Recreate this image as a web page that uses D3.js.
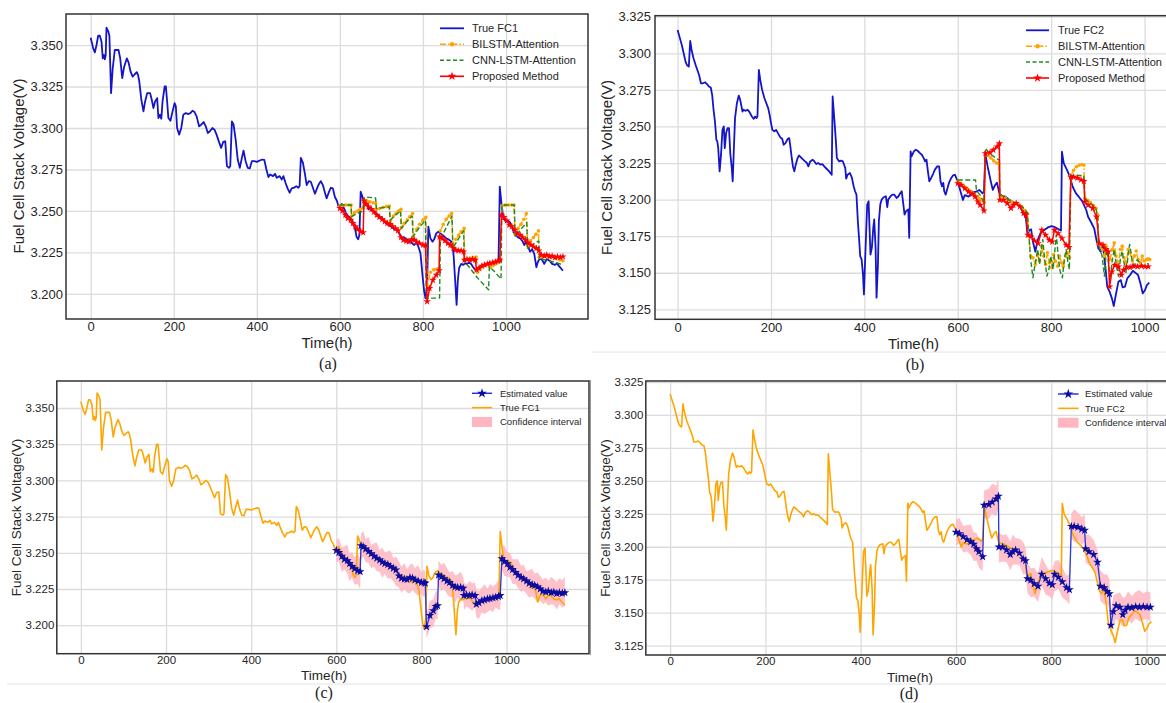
<!DOCTYPE html>
<html>
<head>
<meta charset="utf-8">
<script src="https://cdn.jsdelivr.net/npm/d3@7"></script>
<style>
  body { margin: 0; background: #fff; }
  svg { display: block; font-family: "Liberation Sans", Arial, sans-serif; }
</style>
</head>
<body>
<svg id="fig" width="1166" height="703"></svg>
<script>
'use strict'

// ---- data (hours, volts) ----
const timeTicks = [0, 200, 400, 600, 800, 1000]
const voltTicksFC1 = [3.200, 3.225, 3.250, 3.275, 3.300, 3.325, 3.350]
const voltTicksFC2 = [3.125, 3.150, 3.175, 3.200, 3.225, 3.250, 3.275, 3.300, 3.325]

const trueFC1 = [[0,3.3544],[6,3.3480],[10,3.3456],[14,3.3500],[18,3.3556],[22,3.3556],[26,3.3520],[29,3.3420],[32,3.3440],[34,3.3414],[36,3.3436],[38,3.3604],[42,3.3584],[45,3.3556],[49,3.3210],[53,3.3360],[58,3.3470],[67,3.3470],[71,3.3420],[76,3.3300],[80,3.3364],[87,3.3420],[91,3.3396],[96,3.3340],[101,3.3310],[106,3.3324],[111,3.3336],[114,3.3320],[117,3.3280],[122,3.3170],[127,3.3100],[131,3.3160],[136,3.3210],[143,3.3210],[147,3.3170],[151,3.3120],[155,3.3160],[160,3.3180],[163,3.3060],[167,3.3080],[170,3.3056],[173,3.3160],[178,3.3250],[181,3.3250],[184,3.3160],[187,3.3060],[192,3.3044],[197,3.3100],[202,3.3150],[205,3.3130],[208,3.3000],[213,3.2960],[218,3.3000],[223,3.3080],[229,3.3090],[235,3.3084],[240,3.3090],[245,3.3104],[250,3.3096],[255,3.3070],[261,3.3010],[266,3.3020],[272,3.3036],[277,3.3010],[282,3.2970],[287,3.2980],[293,3.3000],[298,3.2990],[303,3.2960],[307,3.2930],[314,3.2880],[319,3.2916],[324,3.2920],[328,3.2770],[333,3.2760],[336,3.2770],[340,3.3040],[344,3.3020],[349,3.2930],[354,3.2810],[359,3.2760],[364,3.2820],[368,3.2864],[373,3.2800],[378,3.2760],[383,3.2756],[388,3.2800],[394,3.2800],[400,3.2796],[407,3.2804],[413,3.2810],[418,3.2808],[423,3.2750],[428,3.2704],[432,3.2720],[439,3.2710],[444,3.2724],[448,3.2700],[455,3.2710],[460,3.2690],[464,3.2710],[469,3.2670],[474,3.2636],[479,3.2610],[484,3.2636],[490,3.2640],[495,3.2650],[500,3.2640],[503,3.2650],[506,3.2820],[511,3.2790],[516,3.2720],[520,3.2656],[525,3.2680],[530,3.2676],[535,3.2640],[540,3.2604],[544,3.2630],[549,3.2660],[554,3.2680],[559,3.2656],[564,3.2610],[568,3.2576],[573,3.2610],[578,3.2640],[583,3.2636],[588,3.2584],[593,3.2560],[597,3.2524],
  [600,3.2530],[605,3.2542],[610,3.2516],[614,3.2490],[619,3.2470],[624,3.2462],[629,3.2446],[634,3.2416],[637,3.2386],[640,3.2345],[644,3.2330],[647,3.2355],[650,3.2616],[653,3.2596],[656,3.2566],[660,3.2546],[665,3.2536],[669,3.2510],[673,3.2522],[677,3.2506],[682,3.2494],[687,3.2486],[692,3.2476],[697,3.2466],[702,3.2450],[706,3.2442],[711,3.2426],[716,3.2416],[721,3.2410],[726,3.2402],[731,3.2390],[735,3.2386],[740,3.2376],[745,3.2355],[750,3.2335],[755,3.2341],[760,3.2330],[765,3.2325],[769,3.2321],[774,3.2305],[779,3.2295],[784,3.2310],[789,3.2285],[794,3.2245],[797,3.2165],[800,3.2084],[803,3.2014],[806,3.1974],[810,3.2044],[813,3.2406],[818,3.2335],[823,3.2315],[827,3.2329],[832,3.2365],[837,3.2375],[842,3.2365],[847,3.2355],[852,3.2345],[856,3.2335],[861,3.2329],[866,3.2321],[871,3.2305],[874,3.2225],[877,3.2104],[881,3.1934],[884,3.2084],[887,3.2155],[892,3.2181],[897,3.2175],[902,3.2185],[906,3.2181],[911,3.2189],[916,3.2181],[921,3.2161],[926,3.2145],[931,3.2149],[935,3.2161],[940,3.2169],[945,3.2175],[950,3.2171],[955,3.2181],[960,3.2175],[964,3.2185],[969,3.2181],[974,3.2189],[979,3.2195],[982,3.2205],[985,3.2647],[989,3.2546],[992,3.2486],[995,3.2450],[1000,3.2436],[1005,3.2442],[1010,3.2430],[1014,3.2406],[1019,3.2369],[1024,3.2355],[1029,3.2341],[1034,3.2335],[1039,3.2321],[1044,3.2295],[1048,3.2315],[1053,3.2285],[1058,3.2255],[1063,3.2269],[1068,3.2241],[1073,3.2161],[1077,3.2195],[1082,3.2215],[1087,3.2205],[1092,3.2181],[1098,3.2209],[1105,3.2201],[1111,3.2181],[1118,3.2175],[1123,3.2185],[1127,3.2169],[1132,3.2155],[1137,3.2140]]

const bilstmFC1 = [[600,3.2530],[607,3.2534],[614,3.2536],[621,3.2536],[627,3.2536],[628,3.2470],[635,3.2490],[642,3.2500],[649,3.2510],[656,3.2520],[658,3.2565],[665,3.2560],[672,3.2556],[680,3.2550],[686,3.2545],[688,3.2510],[696,3.2515],[704,3.2522],[712,3.2526],[719,3.2530],[722,3.2440],[729,3.2470],[735,3.2485],[741,3.2500],[747,3.2510],[748,3.2400],[755,3.2425],[762,3.2445],[768,3.2465],[775,3.2485],[777,3.2340],[785,3.2390],[792,3.2420],[800,3.2445],[807,3.2462],[810,3.2050],[818,3.2130],[826,3.2145],[834,3.2150],[839,3.2155],[842,3.2380],[849,3.2420],[856,3.2450],[863,3.2470],[869,3.2485],[872,3.2300],[879,3.2330],[886,3.2355],[892,3.2375],[899,3.2395],[900,3.2200],[907,3.2210],[914,3.2215],[921,3.2220],[928,3.2222],[931,3.2130],[938,3.2150],[945,3.2165],[952,3.2175],[959,3.2180],[961,3.2160],[968,3.2170],[975,3.2180],[982,3.2190],[987,3.2200],[990,3.2530],[998,3.2535],[1006,3.2536],[1013,3.2536],[1019,3.2536],[1022,3.2360],[1029,3.2395],[1036,3.2420],[1043,3.2450],[1049,3.2485],[1052,3.2290],[1059,3.2320],[1066,3.2340],[1072,3.2360],[1078,3.2380],[1080,3.2220],[1090,3.2225],[1100,3.2225],[1110,3.2222],[1120,3.2215],[1130,3.2205],[1137,3.2200]]

const cnnFC1 = [[600,3.2536],[614,3.2536],[627,3.2536],[628,3.2466],[642,3.2485],[656,3.2500],[658,3.2582],[672,3.2582],[686,3.2578],[688,3.2515],[704,3.2520],[719,3.2525],[721,3.2445],[734,3.2475],[746,3.2500],[748,3.2395],[761,3.2435],[774,3.2470],[776,3.2345],[791,3.2400],[806,3.2445],[808,3.1975],[824,3.1975],[840,3.1975],[842,3.2330],[856,3.2400],[870,3.2470],[872,3.2275],[885,3.2330],[898,3.2380],[900,3.2195],[915,3.2150],[930,3.2100],[945,3.2060],[958,3.2025],[960,3.2165],[974,3.2130],[988,3.2090],[990,3.2536],[1005,3.2536],[1020,3.2536],[1022,3.2345],[1036,3.2390],[1050,3.2430],[1052,3.2275],[1066,3.2300],[1079,3.2320],[1080,3.2215],[1100,3.2200],[1120,3.2190],[1137,3.2175]]

const proposedFC1 = [[600,3.2516],[606,3.2502],[613,3.2476],[619,3.2456],[626,3.2446],[631,3.2426],[637,3.2406],[643,3.2390],[650,3.2376],[656,3.2370],[658,3.2562],[663,3.2542],[669,3.2526],[676,3.2510],[682,3.2494],[689,3.2476],[695,3.2462],[702,3.2450],[708,3.2436],[714,3.2426],[721,3.2420],[727,3.2406],[734,3.2394],[740,3.2382],[747,3.2341],[753,3.2325],[760,3.2319],[766,3.2315],[773,3.2329],[779,3.2325],[785,3.2313],[792,3.2305],[800,3.2295],[806,3.2295],[810,3.1954],[816,3.2034],[824,3.2084],[832,3.2114],[839,3.2141],[840,3.2345],[847,3.2335],[853,3.2321],[860,3.2305],[866,3.2295],[873,3.2275],[879,3.2265],[885,3.2261],[892,3.2261],[898,3.2255],[900,3.2205],[906,3.2209],[913,3.2205],[919,3.2209],[926,3.2205],[929,3.2145],[935,3.2155],[942,3.2169],[948,3.2175],[955,3.2181],[961,3.2185],[968,3.2189],[974,3.2193],[981,3.2199],[985,3.2205],[989,3.2476],[995,3.2462],[1002,3.2442],[1008,3.2416],[1014,3.2406],[1021,3.2386],[1027,3.2365],[1034,3.2355],[1040,3.2341],[1047,3.2325],[1053,3.2309],[1060,3.2295],[1066,3.2285],[1073,3.2275],[1079,3.2261],[1085,3.2235],[1092,3.2229],[1098,3.2235],[1105,3.2225],[1111,3.2229],[1118,3.2219],[1124,3.2225],[1131,3.2221],[1137,3.2225]]

const trueFC2 = [[0,3.3159],[4,3.3114],[9,3.3057],[13,3.3000],[17,3.2943],[20,3.2920],[24,3.2909],[27,3.3084],[30,3.3023],[34,3.2966],[39,3.2916],[41,3.2898],[46,3.2852],[50,3.2795],[54,3.2795],[59,3.2802],[63,3.2789],[67,3.2773],[71,3.2766],[74,3.2716],[77,3.2614],[80,3.2534],[83,3.2409],[85,3.2398],[87,3.2352],[90,3.2193],[93,3.2307],[96,3.2477],[99,3.2500],[101,3.2352],[104,3.2455],[107,3.2489],[110,3.2489],[113,3.2307],[116,3.2216],[118,3.2125],[120,3.2307],[123,3.2557],[127,3.2659],[131,3.2711],[134,3.2682],[139,3.2602],[141,3.2614],[146,3.2607],[150,3.2614],[154,3.2598],[159,3.2568],[163,3.2552],[166,3.2568],[169,3.2557],[171,3.2568],[174,3.2886],[177,3.2818],[181,3.2750],[186,3.2693],[190,3.2659],[194,3.2625],[197,3.2580],[200,3.2523],[203,3.2477],[207,3.2466],[211,3.2477],[216,3.2448],[220,3.2425],[224,3.2416],[227,3.2375],[231,3.2386],[236,3.2416],[239,3.2420],[241,3.2375],[244,3.2295],[247,3.2227],[250,3.2193],[253,3.2239],[257,3.2284],[260,3.2302],[264,3.2289],[269,3.2273],[273,3.2261],[277,3.2250],[280,3.2227],[284,3.2261],[289,3.2273],[293,3.2261],[297,3.2243],[301,3.2250],[306,3.2239],[310,3.2243],[314,3.2227],[319,3.2211],[323,3.2198],[327,3.2182],[330,3.2170],[332,3.2705],[336,3.2534],[339,3.2398],[341,3.2284],[346,3.2261],[350,3.2266],[354,3.2261],[359,3.2216],[361,3.2143],[364,3.2170],[369,3.2182],[373,3.2152],[377,3.2091],[380,3.2057],[383,3.2034],[386,3.1852],[389,3.1716],[391,3.1614],[394,3.1591],[397,3.1489],[399,3.1352],[402,3.1625],[406,3.1966],[409,3.1989],[411,3.1807],[413,3.1625],[416,3.1670],[419,3.1807],[421,3.1864],[424,3.1670],[426,3.1330],[429,3.1557],[431,3.1852],[434,3.1966],[437,3.2000],[441,3.2016],[446,3.2023],[449,3.1948],[451,3.2000],[456,3.2023],[460,3.2034],[464,3.2034],[469,3.2011],[473,3.2023],[477,3.2045],[480,3.2057],[483,3.1977],[486,3.1898],[489,3.1920],[491,3.1925],[494,3.1932],[496,3.1739],[499,3.2330],[501,3.2295],[506,3.2330],[510,3.2341],[514,3.2334],[519,3.2318],[523,3.2307],[527,3.2284],[530,3.2261],[533,3.2273],[536,3.2193],[539,3.2125],[543,3.2148],[547,3.2175],[551,3.2205],[556,3.2227],[560,3.2227],[563,3.2125],[566,3.2091],[569,3.2114],[571,3.2057],[574,3.2034],[577,3.2068],[581,3.2114],[586,3.2148],[590,3.2166],[594,3.2170],
  [600,3.2122],[607,3.2043],[611,3.1997],[615,3.2031],[623,3.2020],[631,3.2047],[639,3.2054],[646,3.2066],[653,3.2043],[656,3.2054],[659,3.2311],[664,3.2225],[670,3.2134],[675,3.2066],[680,3.2100],[684,3.2116],[689,3.2043],[694,3.2025],[702,3.2020],[709,3.2002],[717,3.1986],[725,3.1975],[733,3.1952],[741,3.1906],[746,3.1872],[749,3.1769],[754,3.1792],[757,3.1797],[761,3.1712],[766,3.1644],[771,3.1724],[777,3.1769],[785,3.1792],[793,3.1810],[801,3.1819],[809,3.1810],[816,3.1797],[821,3.1788],[823,3.2327],[827,3.2248],[834,3.2202],[840,3.2157],[846,3.2088],[853,3.2043],[859,3.2020],[867,3.1986],[875,3.1929],[879,3.1883],[886,3.1842],[892,3.1804],[897,3.1724],[901,3.1667],[906,3.1644],[911,3.1678],[916,3.1542],[920,3.1405],[925,3.1371],[930,3.1325],[934,3.1273],[939,3.1359],[944,3.1439],[949,3.1450],[953,3.1400],[958,3.1405],[963,3.1462],[969,3.1485],[975,3.1514],[982,3.1496],[986,3.1485],[991,3.1428],[996,3.1359],[1001,3.1382],[1005,3.1416],[1010,3.1432]]

const bilstmFC2 = [[600,3.2125],[606,3.2110],[612,3.2095],[618,3.2080],[624,3.2065],[630,3.2050],[636,3.2035],[642,3.2020],[648,3.2005],[654,3.1990],[657,3.1980],[659,3.2320],[665,3.2300],[671,3.2285],[677,3.2265],[683,3.2250],[688,3.2245],[690,3.2030],[696,3.2020],[702,3.2010],[708,3.1995],[714,3.1985],[720,3.1978],[726,3.1975],[732,3.1962],[738,3.1945],[744,3.1925],[749,3.1905],[752,3.1750],[756,3.1614],[761,3.1602],[766,3.1557],[771,3.1625],[775,3.1580],[779,3.1682],[784,3.1614],[788,3.1557],[792,3.1636],[796,3.1568],[801,3.1534],[805,3.1625],[809,3.1580],[814,3.1545],[818,3.1614],[822,3.1568],[826,3.1545],[831,3.1614],[835,3.1636],[839,3.1602],[842,3.2165],[848,3.2200],[854,3.2225],[860,3.2235],[866,3.2240],[870,3.2235],[872,3.2010],[878,3.1995],[884,3.1980],[890,3.1962],[896,3.1940],[899,3.1900],[901,3.1700],[905,3.1693],[909,3.1659],[914,3.1614],[918,3.1682],[922,3.1636],[926,3.1590],[931,3.1659],[935,3.1705],[939,3.1614],[944,3.1557],[948,3.1659],[952,3.1682],[956,3.1602],[961,3.1568],[965,3.1659],[969,3.1636],[974,3.1580],[978,3.1614],[982,3.1648],[986,3.1590],[991,3.1568],[995,3.1614],[999,3.1580],[1004,3.1590],[1008,3.1595],[1011,3.1590]]

const cnnFC2 = [[600,3.2134],[610,3.2134],[620,3.2134],[630,3.2134],[638,3.2134],[640,3.2060],[648,3.2030],[656,3.1980],[659,3.2350],[667,3.2320],[675,3.2300],[683,3.2280],[689,3.2270],[690,3.2035],[700,3.2020],[710,3.1995],[720,3.1980],[730,3.1965],[740,3.1945],[749,3.1910],[752,3.1773],[756,3.1590],[761,3.1466],[766,3.1568],[771,3.1659],[775,3.1557],[779,3.1659],[782,3.1727],[786,3.1590],[791,3.1477],[795,3.1523],[799,3.1614],[804,3.1523],[808,3.1659],[811,3.1761],[815,3.1614],[819,3.1511],[824,3.1466],[828,3.1590],[832,3.1659],[836,3.1568],[839,3.1523],[842,3.2165],[850,3.2165],[858,3.2165],[866,3.2165],[870,3.2165],[872,3.2010],[880,3.1985],[888,3.1965],[896,3.1935],[900,3.1880],[901,3.1693],[905,3.1659],[909,3.1614],[914,3.1477],[918,3.1659],[922,3.1590],[926,3.1455],[931,3.1590],[935,3.1659],[939,3.1568],[944,3.1477],[948,3.1590],[952,3.1648],[956,3.1568],[961,3.1500],[965,3.1636],[968,3.1693],[972,3.1614],[976,3.1523],[981,3.1568],[985,3.1590],[989,3.1568],[994,3.1557],[998,3.1545],[1004,3.1557],[1008,3.1564]]

const proposedFC2 = [[600,3.2111],[607,3.2100],[615,3.2077],[623,3.2054],[631,3.2038],[637,3.2020],[643,3.1986],[648,3.1963],[656,3.1924],[659,3.2316],[669,3.2321],[676,3.2339],[684,3.2362],[689,3.2384],[690,3.1998],[698,3.1998],[706,3.1975],[714,3.1941],[719,3.1963],[725,3.1975],[733,3.1952],[741,3.1907],[746,3.1895],[750,3.1758],[757,3.1747],[764,3.1720],[772,3.1701],[780,3.1792],[788,3.1758],[796,3.1724],[802,3.1712],[807,3.1792],[815,3.1769],[823,3.1735],[832,3.1690],[838,3.1674],[842,3.2155],[848,3.2155],[856,3.2148],[864,3.2135],[870,3.2125],[872,3.1986],[879,3.1963],[889,3.1941],[897,3.1883],[903,3.1701],[911,3.1690],[917,3.1661],[922,3.1644],[925,3.1405],[930,3.1508],[936,3.1553],[944,3.1542],[950,3.1485],[955,3.1519],[961,3.1542],[969,3.1537],[977,3.1546],[985,3.1542],[993,3.1546],[1001,3.1542],[1008,3.1542]]

// panel (c): estimated value for FC1
const estimatedFC1 = [[600,3.2516],[606,3.2502],[613,3.2476],[619,3.2456],[626,3.2446],[631,3.2426],[637,3.2406],[643,3.2390],[650,3.2376],[656,3.2370],[658,3.2550],[663,3.2542],[669,3.2526],[676,3.2510],[682,3.2494],[689,3.2476],[695,3.2462],[702,3.2450],[708,3.2436],[714,3.2426],[721,3.2420],[727,3.2406],[734,3.2394],[740,3.2382],[747,3.2341],[753,3.2325],[760,3.2319],[766,3.2315],[773,3.2329],[779,3.2325],[785,3.2313],[792,3.2305],[800,3.2295],[806,3.2295],[809,3.2290],[812,3.1990],[820,3.2067],[828,3.2100],[834,3.2129],[838,3.2135],[840,3.2347],[847,3.2335],[853,3.2321],[860,3.2305],[866,3.2295],[873,3.2275],[879,3.2265],[885,3.2261],[892,3.2261],[898,3.2255],[900,3.2205],[906,3.2209],[913,3.2205],[919,3.2209],[926,3.2205],[929,3.2145],[935,3.2155],[942,3.2169],[948,3.2175],[955,3.2181],[961,3.2185],[968,3.2189],[974,3.2193],[981,3.2199],[985,3.2205],[989,3.2460],[995,3.2440],[1002,3.2425],[1008,3.2400],[1014,3.2385],[1021,3.2365],[1027,3.2345],[1034,3.2330],[1040,3.2320],[1047,3.2305],[1053,3.2290],[1060,3.2280],[1066,3.2275],[1073,3.2265],[1079,3.2250],[1085,3.2235],[1092,3.2229],[1098,3.2235],[1105,3.2225],[1111,3.2229],[1118,3.2219],[1124,3.2225],[1131,3.2221],[1137,3.2225]]
// panel (d) plots the same FC2 estimate as the proposed method in (b)
const estimatedFC2 = proposedFC2

// confidence band, [above, below] the estimate in mV, one pair per estimate point
const ciFC1 = [[7,8],[10,6],[6,11],[9,7],[11,9],[7,12],[10,8],[8,11],[12,9],[9,12],
  [8,10],[11,7],[7,9],[10,8],[6,10],[9,7],[11,9],[7,8],[10,11],[8,7],[9,10],[11,8],[7,9],[9,11],
  [10,8],[8,10],[11,7],[7,9],[9,11],[10,8],[8,9],[11,10],[7,8],[9,10],[8,9],
  [9,8],[10,9],[8,11],[11,8],[9,10],
  [10,8],[8,10],[11,7],[9,9],[7,10],[10,8],[8,11],[9,7],[11,9],[8,8],
  [9,10],[7,8],[10,9],[8,11],[9,8],
  [10,9],[8,11],[9,8],[11,10],[7,9],[10,8],[8,10],[9,7],[11,9],[8,10],
  [9,8],[11,10],[8,9],[10,7],[7,10],[9,8],[11,9],[8,10],[10,8],[7,9],[9,10],[11,8],[8,9],[10,11],[9,8],
  [8,9],[10,7],[7,10],[11,8],[9,9],[8,11],[10,8],[9,10],[11,9]]
const ciFC2 = [[9,10],[12,8],[8,12],[11,9],[13,10],[9,13],[12,9],[10,12],[13,11],[11,10],
  [12,11],[14,9],[10,13],[13,10],[11,12],[9,11],[12,9],[10,12],[13,10],[9,11],
  [11,9],[13,12],[10,10],[12,11],[9,13],[12,10],[10,12],[13,9],[11,12],[9,10],
  [12,11],[10,13],[13,9],[11,12],[9,10],[12,11],[10,9],[13,12],[11,10],[9,12],
  [12,9],[10,11],[13,10],[11,12],[9,10],[12,11],[10,13],[13,9],[11,12],[10,10],
  [12,11],[9,10],[11,12],[13,9],[10,11],[12,10],[9,12],[11,9],[13,11],[10,10],
  [12,9],[11,11]]

// ---- drawing ----
const svg = d3.select('#fig')
const FONT = '"Liberation Sans", Arial, sans-serif'
const BLUE = '#1414c8'
const EST_LINE = '#2436e0'
const EST_STAR = '#0c0c9e'

function styleAxis (ax, size) {
  ax.attr('font-family', FONT).attr('font-size', size)
  ax.select('.domain').remove()
  ax.selectAll('.tick line').attr('stroke', '#dcdcdc').attr('stroke-width', 1.3)
  ax.selectAll('.tick text').attr('fill', '#262626')
}

function drawPanel (p) {
  const x = d3.scaleLinear().domain(p.xDomain).range([p.left, p.right])
  const y = d3.scaleLinear().domain(p.yDomain).range([p.bottom, p.top])
  const g = svg.append('g')

  g.append('g')
    .attr('transform', `translate(0,${p.bottom})`)
    .call(d3.axisBottom(x).tickValues(timeTicks).tickFormat(d3.format('d'))
      .tickSize(-(p.bottom - p.top)).tickPadding(p.xPad))
    .call(ax => styleAxis(ax, p.tickFont))

  g.append('g')
    .attr('transform', `translate(${p.left},0)`)
    .call(d3.axisLeft(y).tickValues(p.yTicks).tickFormat(d3.format('.3f'))
      .tickSize(-(p.right - p.left)).tickPadding(p.yPad))
    .call(ax => styleAxis(ax, p.tickFont))

  const clipId = 'clip-' + p.name
  g.append('clipPath').attr('id', clipId)
    .append('rect').attr('x', p.left).attr('y', p.top)
    .attr('width', p.right - p.left).attr('height', p.bottom - p.top)
  const plot = g.append('g').attr('clip-path', `url(#${clipId})`)

  const line = d3.line().x(d => x(d[0])).y(d => y(d[1]))

  p.series.forEach(s => {
    if (s.band) {
      const area = d3.area()
        .x(d => x(d[0]))
        .y0((d, i) => y(d[1] - (s.band[i] ? s.band[i][1] : 8) / 1000))
        .y1((d, i) => y(d[1] + (s.band[i] ? s.band[i][0] : 8) / 1000))
      plot.append('path').datum(s.data)
        .attr('d', area).attr('fill', '#ffb6c1').attr('opacity', 0.85)
      return
    }
    plot.append('path').datum(s.data)
      .attr('d', line)
      .attr('fill', 'none')
      .attr('stroke', s.color)
      .attr('stroke-width', s.width)
      .attr('stroke-dasharray', s.dash || null)
      .attr('stroke-linejoin', 'round')
    if (s.marker === 'dot') {
      plot.selectAll(null).data(s.data).join('circle')
        .attr('cx', d => x(d[0])).attr('cy', d => y(d[1]))
        .attr('r', 1.8).attr('fill', s.color)
    } else if (s.marker === 'star') {
      plot.selectAll(null).data(s.data).join('path')
        .attr('d', d3.symbol(d3.symbolStar, s.starSize)())
        .attr('transform', d => `translate(${x(d[0])},${y(d[1])})`)
        .attr('fill', s.markerColor || s.color)
    }
  })

  // frame
  g.append('rect')
    .attr('x', p.left).attr('y', p.top)
    .attr('width', p.right - p.left).attr('height', p.bottom - p.top)
    .attr('fill', 'none').attr('stroke', '#333').attr('stroke-width', 1.5)

  // axis titles and caption
  g.append('text')
    .attr('x', (p.left + Math.min(p.right, 1166)) / 2 + p.xLabelShift).attr('y', p.xLabelY)
    .attr('dy', '0.35em').attr('text-anchor', 'middle')
    .attr('font-family', FONT).attr('font-size', p.labelFont).attr('fill', '#262626')
    .text('Time(h)')
  g.append('text')
    .attr('transform', `translate(${p.yLabelX},${p.yLabelY}) rotate(-90)`)
    .attr('dy', '0.35em').attr('text-anchor', 'middle')
    .attr('font-family', FONT).attr('font-size', p.labelFont).attr('fill', '#262626')
    .text('Fuel Cell Stack Voltage(V)')
  g.append('text')
    .attr('x', p.captionX).attr('y', p.captionY)
    .attr('dy', '0.35em').attr('text-anchor', 'middle')
    .attr('font-family', '"Liberation Serif", "Times New Roman", serif')
    .attr('font-size', 16).attr('fill', '#222')
    .text(p.caption)

  // legend (no frame)
  const lg = g.append('g')
  p.legend.items.forEach((it, i) => {
    const cy = p.legend.y + i * p.legend.step
    const x0 = p.legend.x
    const x1 = x0 + p.legend.len
    if (it.patch) {
      lg.append('rect').attr('x', x0).attr('y', cy - 5).attr('width', x1 - x0).attr('height', 10)
        .attr('fill', '#ffb6c1')
    } else {
      lg.append('line').attr('x1', x0).attr('x2', x1).attr('y1', cy).attr('y2', cy)
        .attr('stroke', it.color).attr('stroke-width', it.width)
        .attr('stroke-dasharray', it.dash || null)
      if (it.marker === 'dot') {
        lg.append('circle').attr('cx', (x0 + x1) / 2).attr('cy', cy).attr('r', 2.2).attr('fill', it.color)
      } else if (it.marker === 'star') {
        lg.append('path').attr('d', d3.symbol(d3.symbolStar, it.starSize)())
          .attr('transform', `translate(${(x0 + x1) / 2},${cy})`)
          .attr('fill', it.markerColor || it.color)
      }
    }
    lg.append('text')
      .attr('x', p.legend.textX).attr('y', cy).attr('dy', '0.35em')
      .attr('font-family', FONT).attr('font-size', p.legend.font).attr('fill', '#262626')
      .text(it.label)
  })
}

const compareStyles = (trueData, trueLabel, bil, cnn, prop) => ({
  series: [
    { data: trueData, color: BLUE, width: 1.8 },
    { data: bil, color: 'orange', width: 1.5, dash: '6,2,1.5,2', marker: 'dot' },
    { data: cnn, color: '#1f8a1f', width: 1.4, dash: '5,2.5' },
    { data: prop, color: 'red', width: 1.5, marker: 'star', starSize: 17 }
  ],
  items: [
    { label: trueLabel, color: BLUE, width: 1.8 },
    { label: 'BILSTM-Attention', color: 'orange', width: 1.6, dash: '6,2,1.5,2', marker: 'dot' },
    { label: 'CNN-LSTM-Attention', color: '#1f8a1f', width: 1.5, dash: '4,2.5' },
    { label: 'Proposed Method', color: 'red', width: 1.6, marker: 'star', starSize: 24 }
  ]
})

const intervalStyles = (trueData, trueLabel, est, band) => ({
  series: [
    { data: est, band: band },
    { data: trueData, color: 'orange', width: 1.6 },
    { data: est, color: EST_LINE, width: 1.3, marker: 'star', starSize: 24, markerColor: EST_STAR }
  ],
  items: [
    { label: 'Estimated value', color: EST_LINE, width: 1.5, marker: 'star', starSize: 30, markerColor: EST_STAR },
    { label: trueLabel, color: 'orange', width: 1.6 },
    { label: 'Confidence interval', patch: true }
  ]
})

const styleA = compareStyles(trueFC1, 'True FC1', bilstmFC1, cnnFC1, proposedFC1)
drawPanel({
  name: 'a', left: 66, right: 588, top: 14, bottom: 319,
  xDomain: [-59.5, 1197.4], yDomain: [3.1849, 3.3687], yTicks: voltTicksFC1,
  tickFont: 13, labelFont: 15, xPad: 3, yPad: 3,
  xLabelY: 343, xLabelShift: 0, yLabelX: 19, yLabelY: 166,
  caption: '(a)', captionX: 328, captionY: 363,
  series: styleA.series,
  legend: { x: 440, len: 24, textX: 472, y: 28.3, step: 16, font: 11, items: styleA.items }
})

const styleB = compareStyles(trueFC2, 'True FC2', bilstmFC2, cnnFC2, proposedFC2)
drawPanel({
  name: 'b', left: 655, right: 1172, top: 15.7, bottom: 319.3,
  xDomain: [-48.4, 1058.7], yDomain: [3.1182, 3.3257], yTicks: voltTicksFC2,
  tickFont: 13, labelFont: 15, xPad: 3, yPad: 4,
  xLabelY: 344, xLabelShift: 3, yLabelX: 606.5, yLabelY: 167.5,
  caption: '(b)', captionX: 915, captionY: 364,
  series: styleB.series,
  legend: { x: 1026, len: 23, textX: 1058, y: 30.3, step: 15.9, font: 11, items: styleB.items }
})

const styleC = intervalStyles(trueFC1, 'True FC1', estimatedFC1, ciFC1)
drawPanel({
  name: 'c', left: 56.8, right: 589, top: 381, bottom: 653.7,
  xDomain: [-56.6, 1193.6], yDomain: [3.18032, 3.36865], yTicks: voltTicksFC1,
  tickFont: 11.5, labelFont: 13.5, xPad: 2, yPad: 2.5,
  xLabelY: 675, xLabelShift: 1, yLabelX: 15.8, yLabelY: 517.5,
  caption: '(c)', captionX: 324, captionY: 692,
  series: styleC.series,
  legend: { x: 472, len: 20, textX: 500, y: 393.3, step: 14.35, font: 9.5, items: styleC.items }
})

const styleD = intervalStyles(trueFC2, 'True FC2', estimatedFC2, ciFC2)
drawPanel({
  name: 'd', left: 645.8, right: 1176, top: 381, bottom: 655,
  xDomain: [-51, 1061.7], yDomain: [3.11787, 3.32576], yTicks: voltTicksFC2,
  tickFont: 11.5, labelFont: 13.5, xPad: 2, yPad: 2.5,
  xLabelY: 677, xLabelShift: 4, yLabelX: 605.4, yLabelY: 518,
  caption: '(d)', captionX: 909, captionY: 693,
  series: styleD.series,
  legend: { x: 1058, len: 20.6, textX: 1085, y: 394, step: 14.35, font: 9.5, items: styleD.items }
})

// thin separators from the page layout
svg.append('line').attr('x1', 592).attr('x2', 1166).attr('y1', 352).attr('y2', 352)
  .attr('stroke', '#e4e4e4').attr('stroke-width', 1)
svg.append('line').attr('x1', 7).attr('x2', 1166).attr('y1', 684).attr('y2', 684)
  .attr('stroke', '#e4e4e4').attr('stroke-width', 1)
svg.append('line').attr('x1', 590.5).attr('x2', 590.5).attr('y1', 380).attr('y2', 655)
  .attr('stroke', '#9a9a9a').attr('stroke-width', 1)
</script>
</body>
</html>
